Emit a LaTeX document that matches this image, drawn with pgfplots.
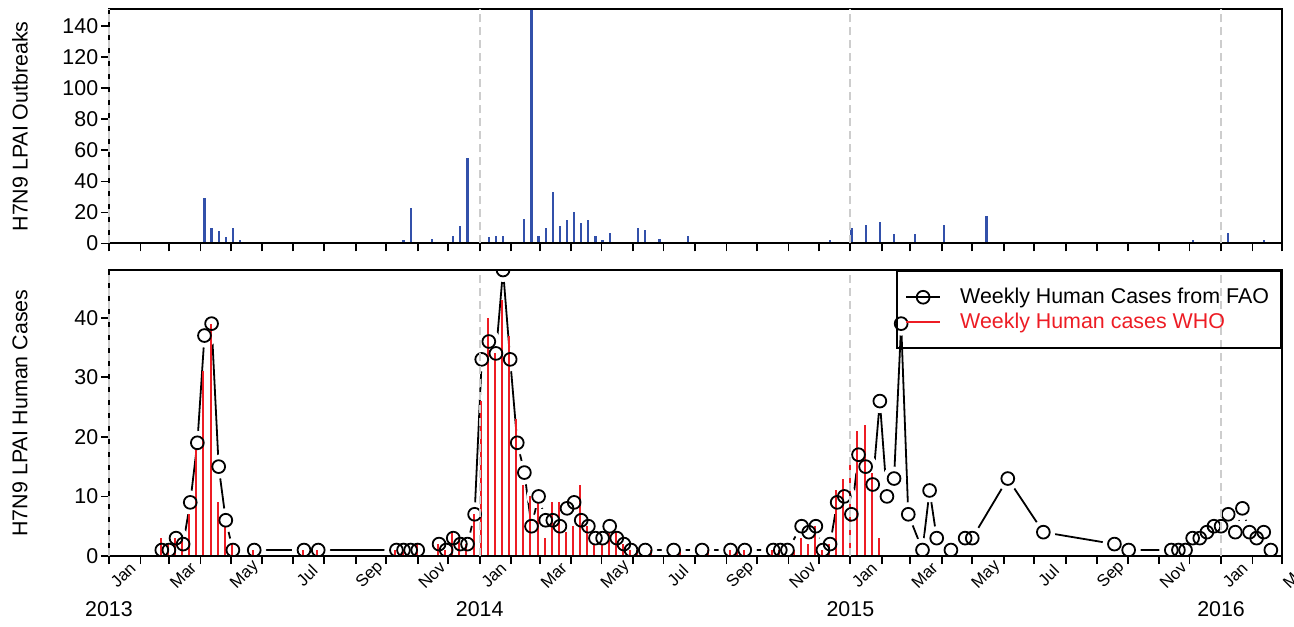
\documentclass[border=0pt]{standalone}
\usepackage{fontspec}
\setmainfont{Liberation Sans}
\usepackage{pgfplots}
\usepackage{pgfplotstable}
\pgfplotsset{compat=1.18}
\definecolor{obblue}{RGB}{50,80,170}
\definecolor{whored}{RGB}{237,28,36}
\definecolor{gridgray}{RGB}{205,205,205}

% day = days since 1 Jan 2013
\pgfplotstableread{
day val
94 29
101 10
108 8
115 4
122 10
129 2
136 1
192 1
199 1
290 2
297 23
304 1
318 3
339 5
346 11
353 55
367 1
374 4
381 5
388 5
395 1
409 16
416 151
423 5
430 10
437 33
444 11
451 15
458 20
465 13
472 15
479 5
486 2
493 7
521 10
528 9
535 1
542 3
549 1
570 5
668 1
710 2
717 1
731 10
745 12
759 14
773 6
794 6
822 12
864 18
1039 1
1067 2
1102 7
1123 1
1130 1
1137 2
}\outbreaks

\pgfplotstableread{
day val
52 1
59 1
66 3
73 2
80 9
87 19
94 37
101 39
108 15
115 6
122 1
143 1
192 1
206 1
283 1
290 1
297 1
304 1
325 2
332 1
339 3
346 2
353 2
360 7
367 33
374 36
381 34
388 48
395 33
402 19
409 14
416 5
423 10
430 6
437 6
444 5
451 8
458 9
465 6
472 5
479 3
486 3
493 5
500 3
507 2
514 1
528 1
556 1
584 1
612 1
626 1
654 1
661 1
668 1
682 5
689 4
696 5
703 1
710 2
717 9
724 10
731 7
738 17
745 15
752 12
759 26
766 10
773 13
780 39
787 7
801 1
808 11
815 3
829 1
843 3
850 3
885 13
920 4
990 2
1004 1
1046 1
1053 1
1060 1
1067 3
1074 3
1081 4
1088 5
1095 5
1102 7
1109 4
1116 8
1123 4
1130 3
1137 4
1144 1
}\fao

\pgfplotstableread{
day val
51 3
58 2
65 3
72 3
79 7
86 18
93 31
100 39
107 9
114 5
121 2
142 1
191 1
205 1
282 1
289 1
303 2
324 2
331 1
338 4
345 3
352 2
359 7
366 26
373 40
380 34
387 43
394 37
401 23
408 12
415 10
422 9
429 3
436 9
443 9
450 4
457 5
464 12
471 5
478 2
485 2
492 4
499 4
506 2
513 1
520 1
534 1
562 1
590 1
611 1
618 1
625 1
653 1
660 1
674 1
681 3
688 2
695 5
702 1
709 2
716 11
723 13
730 16
737 21
744 22
751 14
758 3
}\who

\pgfplotsset{
  common/.style={
    scale only axis,
    width=586.5pt,
    xmin=0, xmax=1155,
    axis on top,
    axis line style={line width=1pt},
    every tick/.style={black, line width=0.9pt},
    every minor tick/.style={black, line width=0.9pt},
    tick align=outside,
    major tick length=4pt,
    minor tick length=4pt,
    xtick pos=bottom, ytick pos=left,
    xtick={0,59,120,181,243,304,365,424,485,546,608,669,730,789,850,911,973,1034,1095,1155},
    minor xtick={31,90,151,212,273,334,396,455,516,577,638,699,761,820,881,942,1003,1064,1126},
    extra x ticks={0,365,730,1095},
    extra x tick labels={},
    extra x tick style={grid=major, major tick length=0pt,
      major grid style={gridgray, line width=0.9pt, dash pattern=on 4pt off 2.5pt}},
    font=\fontsize{10.7}{12.8}\selectfont,
    /pgf/number format/assume math mode=true,
    yticklabel style={inner xsep=1.2pt},
    clip mode=individual,
    clip marker paths=true,
  }
}

\begin{document}
\begin{tikzpicture}
\useasboundingbox (-54.5pt,-35pt) rectangle (592.5pt,278pt);

\begin{axis}[common, at={(0,156.25pt)}, anchor=south west,
  height=117.15pt, ymin=0, ymax=151, ytick={0,20,...,140},
  xticklabels={},
  ylabel={H7N9 LPAI Outbreaks},
  ylabel style={at={(axis description cs:-0.0759,0.5)}, anchor=center}]
\addplot[ycomb, obblue, line width=1.1pt, no markers] table[x=day,y=val] {\outbreaks};
\end{axis}

\begin{axis}[common, at={(0,0)}, anchor=south west,
  height=143pt, ymin=0, ymax=48, ytick={0,10,...,40},
  xticklabels={Jan,Mar,May,Jul,Sep,Nov,Jan,Mar,May,Jul,Sep,Nov,Jan,Mar,May,Jul,Sep,Nov,Jan,Mar},
  xticklabel style={rotate=45, anchor=center, font=\fontsize{8.4}{9.6}\selectfont, yshift=-9pt, xshift=1pt},
  ylabel={H7N9 LPAI Human Cases},
  ylabel style={at={(axis description cs:-0.0759,0.5)}, anchor=center},
  legend style={at={(1,1)}, anchor=north east, draw=black, line width=1pt, fill=none,
    inner xsep=4pt, inner ysep=6.5pt, row sep=-1pt,
    /tikz/every odd column/.append style={column sep=7.5pt},
    font=\fontsize{10.7}{12.8}\selectfont},
  legend cell align=left]
% FAO line (type "b" look: line, white gaps, then circles)
\addplot[black, line width=0.9pt, no markers, forget plot] table[x=day,y=val] {\fao};
\addplot[only marks, mark=*, mark size=5.8pt, mark options={draw=white, fill=white}, forget plot] table[x=day,y=val] {\fao};
% WHO bars
\addplot[ycomb, whored, line width=1pt, no markers, forget plot] table[x=day,y=val] {\who};
% FAO circles
\addplot[only marks, black, mark=o, mark size=3.2pt, mark options={line width=0.9pt}, forget plot] table[x=day,y=val] {\fao};
\addlegendimage{black, line width=0.9pt, mark=o, mark size=3.2pt, mark options={line width=0.9pt}}
\addlegendentry{Weekly Human Cases from FAO}
\addlegendimage{legend image code/.code={\draw[whored, line width=1pt] (0cm,0cm) -- (0.6cm,0cm);}}
\addlegendentry{\textcolor{whored}{Weekly Human cases WHO}}
\node at (axis cs:0,0) [yshift=-26.5pt] {2013};
\node at (axis cs:365,0) [yshift=-26.5pt] {2014};
\node at (axis cs:730,0) [yshift=-26.5pt] {2015};
\node at (axis cs:1095,0) [yshift=-26.5pt] {2016};
\end{axis}
\end{tikzpicture}
\end{document}
